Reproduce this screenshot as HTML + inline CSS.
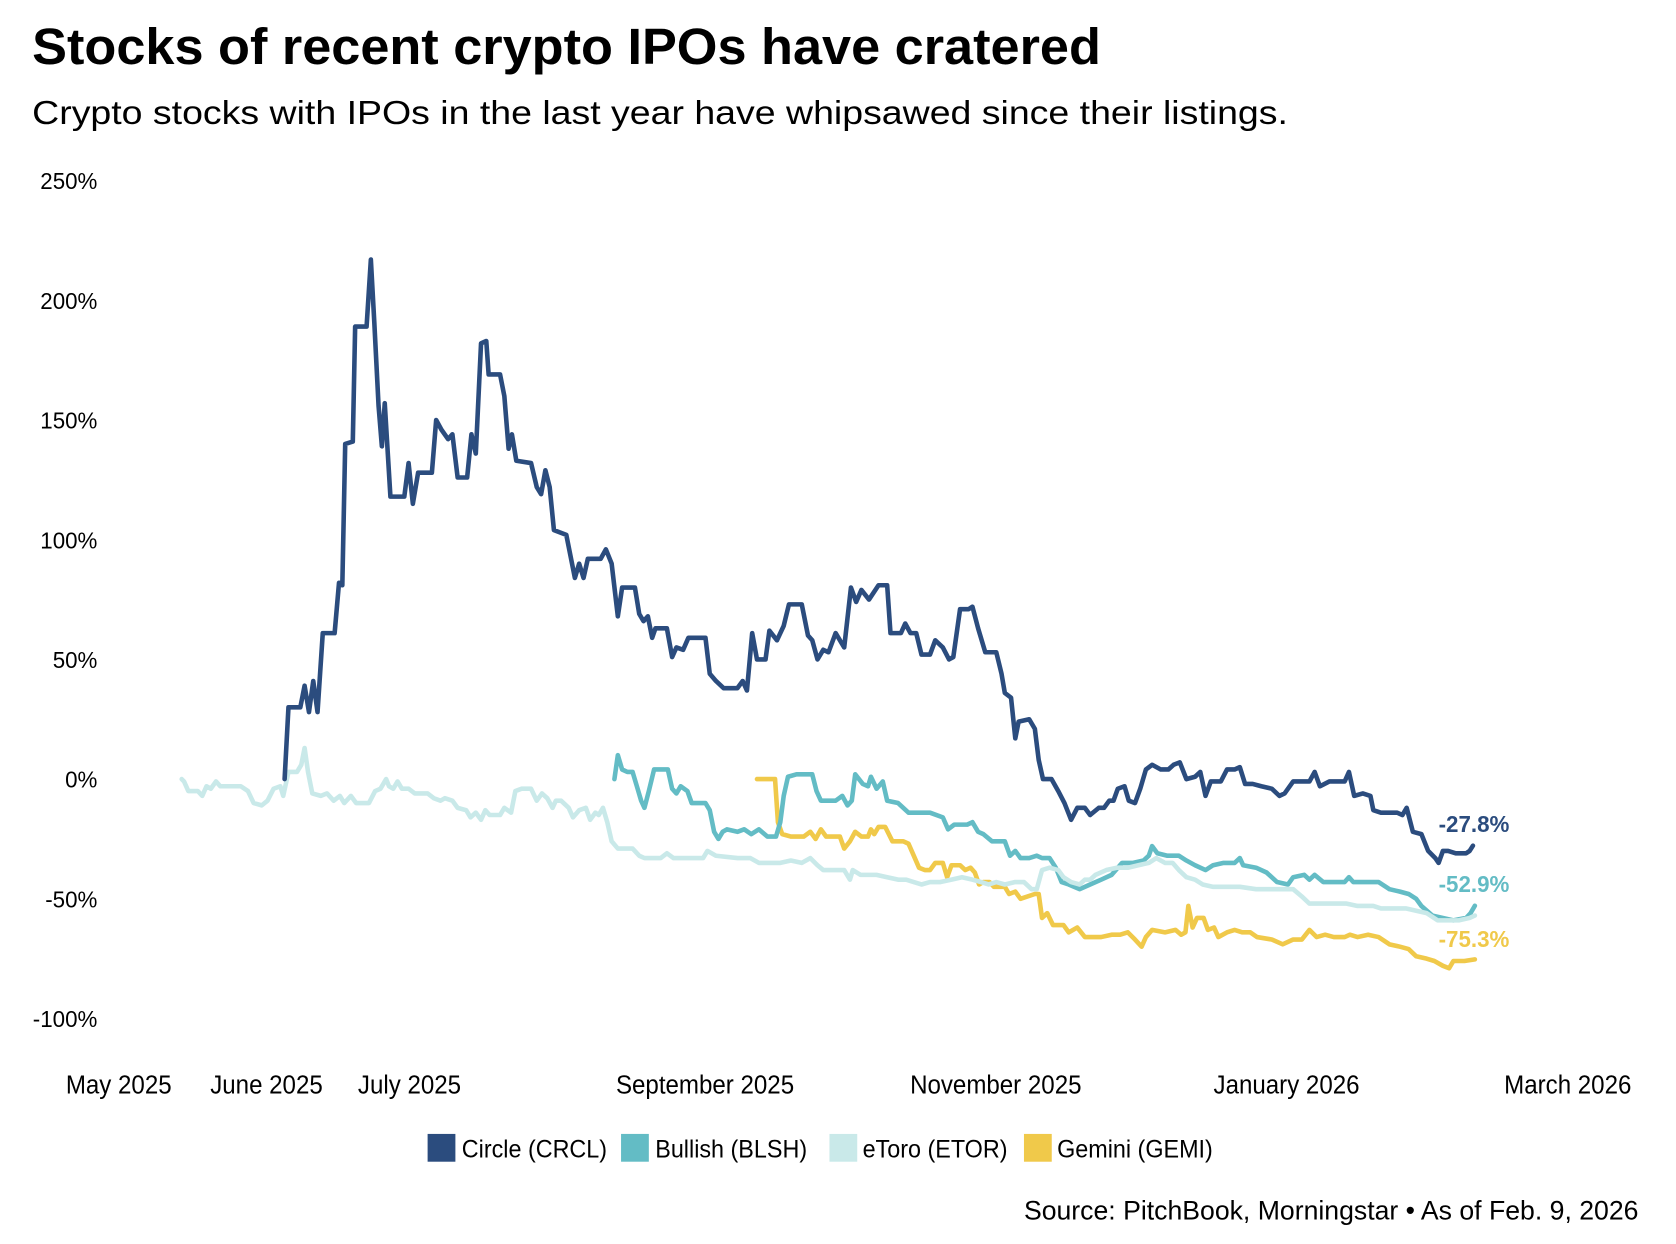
<!DOCTYPE html>
<html><head><meta charset="utf-8"><style>
html,body{margin:0;padding:0;background:#fff;}
svg{display:block;}
text{font-family:"Liberation Sans Narrow","Liberation Sans",sans-serif;fill:#000;}
</style></head><body>
<svg id="chart" width="1676" height="1244" viewBox="0 0 1568 1164" xmlns="http://www.w3.org/2000/svg">
<text x="30" y="60" font-size="48" font-weight="bold" textLength="1000" lengthAdjust="spacingAndGlyphs">Stocks of recent crypto IPOs have cratered</text>
<text x="30" y="116" font-size="31" textLength="1175" lengthAdjust="spacingAndGlyphs">Crypto stocks with IPOs in the last year have whipsawed since their listings.</text>
<g id="yaxis"></g>
<g id="xaxis"></g>
<g id="series"></g>
<g id="labels"></g>
<g>
 <g><rect x="400" y="1061" width="26" height="26" fill="#2b4c7e"/><text class="cond" x="432" y="1083" font-size="23">Circle (CRCL)</text></g>
 <g><rect x="581" y="1061" width="26" height="26" fill="#63bcc5"/><text class="cond" x="613" y="1083" font-size="23">Bullish (BLSH)</text></g>
 <g><rect x="776" y="1061" width="26" height="26" fill="#c9e9e9"/><text class="cond" x="807" y="1083" font-size="23">eToro (ETOR)</text></g>
 <g><rect x="958" y="1061" width="26" height="26" fill="#f0c94a"/><text class="cond" x="989" y="1083" font-size="23">Gemini (GEMI)</text></g>
</g>
<text x="1533" y="1141" font-size="25" text-anchor="end" textLength="575" lengthAdjust="spacingAndGlyphs">Source: PitchBook, Morningstar • As of Feb. 9, 2026</text>
</svg>
<script>
// days since 2025-05-01
const yTicks = [250,200,150,100,50,0,-50,-100];
const xTickLabels = ["May 2025","June 2025","July 2025","September 2025","November 2025","January 2026","March 2026"];
const xTickDays = [0,31,61,123,184,245,304];

const circleDays = [34.8,35.6,38.1,39,39.9,40.8,41.7,42.8,45.3,46.2,46.9,47.5,49.1,49.6,52,52.9,53.6,54.5,55.2,55.8,57,59.9,60.8,61.7,62.8,65.7,66.6,67.7,69.1,70,71.1,73.1,74,74.9,76,77.1,77.6,80,80.9,81.8,82.5,83.4,86.5,87.7,88.6,89.5,90.4,91.3,93.9,94.8,95.7,96.6,97.5,98.4,101.1,102.2,103.4,104.7,105.6,108.3,109.2,110.1,111,111.9,112.6,115,116.1,117,118.4,119.5,123.1,124,125.3,126.9,129.8,130.9,131.8,132.9,133.9,135.7,136.5,138.1,139.5,140.6,143.3,144.6,145.5,146.6,147.8,148.9,150.4,152.2,153.6,154.7,155.8,157.4,159.4,161.2,161.9,164.1,165,166.1,167.3,168.4,170.2,171.3,172.9,174.2,175.1,176.5,178.3,179.1,180.3,181.8,184.1,185.2,185.9,187.2,188.1,188.8,191,192.2,193,193.9,195.7,197.1,198.4,199.8,201.1,202.7,203.8,205.6,206.7,207.8,208.7,209.6,211,211.9,213.2,214.3,215.5,216.8,218.6,220.2,221.3,222.6,224,225.8,226.9,228,229.1,231.2,232.5,234.1,235.2,236.3,237.9,239.7,241.9,243.5,244.6,246.4,249.8,250.9,252,254,257.2,258.1,259.2,261,262.6,263.2,264.8,268.2,269.3,270.2,271.5,273.3,274.7,276.2,276.9,277.8,278.9,280.5,282.7,283.4,284.1];
const circleValues = [0,30,30,39,28,41,28,61,61,82,81,140,141,189,189,217,191,156,139,157,118,118,132,115,128,128,150,146,142,144,126,126,144,136,182,183,169,169,160,138,144,133,132,122,119,129,122,104,102,93,84,90,84,92,92,96,90,68,80,80,69,66,68,59,63,63,51,55,54,59,59,44,41,38,38,41,37,61,50,50,62,58,64,73,73,60,58,50,54,53,61,55,80,74,79,75,81,81,61,61,65,61,61,52,52,58,55,50,51,71,71,72,63,53,53,44,36,34,17,24,25,21,8,0,0,-5,-10,-17,-12,-12,-15,-12,-12,-9,-9,-4,-3,-9,-10,-4,4,6,4,4,6,7,0,1,3,-7,-1,-1,4,4,5,-2,-2,-3,-4,-7,-6,-1,-1,3,-3,-1,-1,3,-7,-6,-7,-13,-14,-14,-15,-12,-22,-23,-30,-33,-35,-30,-30,-31,-31,-30,-27.8];

const etoroDays = [13.2,13.7,14.6,16.6,17.5,18.4,19.3,20.4,21.3,22.6,25.6,27.1,28.3,30,31.2,32.5,33.9,34.5,35.6,37.4,38.3,39,39.7,40.6,42.4,43.7,45.1,46.4,47.3,48.7,49.8,52.5,53.8,54.9,56.1,56.7,57.6,58.5,59.4,60.8,62.1,64.8,66.1,67.5,68.4,70,71.1,72.9,73.8,74.9,76,76.9,77.8,80,80.9,82.3,83.2,84.5,86.5,87.7,88.8,89.9,91,91.7,92.8,94.4,95.3,96.6,98,98.9,100,100.7,101.6,102.5,103.4,104.7,107.8,109.2,110.3,113.7,115,116.4,122.6,123.5,125.3,129.8,132.5,134.3,138.8,141,143.3,145.1,146.6,147.8,152.2,153.4,154,155.6,159,161.2,163.5,165.2,166.8,168.4,170.2,172.4,174.7,176.9,179.1,180.9,182.5,184.1,185.9,188.1,189.9,191.5,192.6,193.7,195.3,197.1,198.2,199.8,201.6,202.7,203.8,204.9,207.2,209.4,211.7,213.9,216.1,217.7,219.5,221.1,222.4,224,225.8,227.4,229.6,231.8,235.2,238.6,241.9,244.2,246.4,248.2,249.8,253.1,257.6,259.9,263.2,264.8,267.7,270,272.2,274.4,276.7,278.9,281.1,283.4,284.5];
const etoroValues = [0,-1,-5,-5,-7,-3,-4,-1,-3,-3,-3,-5,-10,-11,-9,-4,-3,-7,3,3,6,13,3,-6,-7,-6,-9,-7,-10,-7,-10,-10,-5,-4,0,-3,-4,-1,-4,-4,-6,-6,-8,-9,-8,-9,-12,-13,-16,-14,-17,-13,-15,-15,-12,-14,-5,-4,-4,-9,-6,-8,-12,-9,-9,-12,-16,-13,-12,-17,-14,-15,-12,-18,-26,-29,-29,-32,-33,-33,-31,-33,-33,-30,-32,-33,-33,-35,-35,-34,-35,-33,-36,-38,-38,-42,-38,-40,-40,-41,-42,-42,-43,-44,-43,-43,-42,-41,-42,-43,-44,-43,-44,-43,-43,-46,-46,-38,-37,-38,-41,-43,-44,-42,-42,-40,-38,-37,-37,-36,-35,-33,-35,-35,-38,-41,-42,-44,-45,-45,-45,-46,-46,-46,-46,-49,-52,-52,-52,-53,-53,-54,-54,-54,-55,-56,-59,-59,-59,-58,-57];

const bullishDays = [104,104.7,105.6,106.7,107.8,108.7,109.6,110.3,111.2,112.3,115.2,116.1,117,117.9,119.3,120.2,123.1,124,124.9,125.8,126.7,127.6,129.8,131.2,132.7,134.3,136.1,137.9,138.8,139.5,140.4,142.2,145.5,146.4,147.3,150.4,151.8,152.9,153.8,154.5,156.1,157.2,157.8,159,160.3,161.2,163.5,165.7,170.2,172.9,174,175.3,178,179.1,180.3,181.4,183.2,185.9,187,188.1,189.2,191,192.6,193.7,195.3,196.6,197.8,199.3,201.6,203.8,206.1,208.3,210.5,212.8,215,216.1,216.8,217.9,220,222.4,224,225.8,228,229.6,231.8,234.1,235.2,235.9,238.6,240.8,243,245.3,246.4,248.7,249.8,250.9,252.7,255.4,257.2,258.1,259,261,264.3,266.6,268.8,270.6,272.2,273.3,275.6,280,282.7,283.6,284.5];
const bullishValues = [0,10,4,3,3,-3,-9,-12,-5,4,4,-4,-6,-3,-5,-10,-10,-13,-22,-25,-22,-21,-22,-21,-23,-21,-24,-24,-18,-7,1,2,2,-5,-9,-9,-7,-11,-9,2,-2,-3,1,-4,-1,-9,-10,-14,-14,-16,-21,-19,-19,-18,-22,-23,-26,-26,-32,-30,-33,-33,-32,-33,-33,-37,-43,-44,-46,-44,-42,-40,-35,-35,-34,-32,-28,-31,-32,-32,-34,-36,-38,-36,-35,-35,-33,-36,-37,-39,-43,-44,-41,-40,-42,-40,-43,-43,-43,-41,-43,-43,-43,-46,-47,-48,-50,-53,-57,-59,-58,-56,-52.9];

const geminiDays = [133.9,136.1,137.7,138.3,139.2,141,143.7,145.1,146.2,147.3,148.4,150,151.3,152.2,153.4,154.5,155.8,157.2,157.8,158.5,159.4,160.8,162.3,164.6,165.7,166.8,167.9,169.1,170.2,171.3,172.9,173.8,174.7,176.5,177.6,178.7,179.6,180.5,181.4,182.7,183.6,185.9,186.8,188.1,189.2,192.2,193,193.7,194.8,196,198.2,199.3,201.1,202.7,206.1,208.3,210.1,211.7,213.2,214.6,215.5,216.8,219.5,221.7,222.9,223.8,224.4,225.3,226.2,227.6,228.5,229.8,230.7,232.5,234.1,235.7,237.4,238.8,241.9,244.2,246.4,248.2,249.8,251.3,253.1,254.9,257.2,258.3,259.9,262.1,264.3,266.6,268.8,270.6,272.2,274.4,276,277.8,279.1,280,282.3,284.5];
const geminiValues = [0,0,0,-18,-23,-24,-24,-22,-25,-21,-24,-24,-24,-29,-26,-22,-24,-24,-21,-23,-20,-20,-26,-26,-27,-32,-37,-38,-38,-35,-35,-41,-36,-36,-38,-37,-39,-44,-43,-43,-45,-45,-48,-47,-50,-48,-48,-58,-56,-61,-61,-64,-62,-66,-66,-65,-65,-64,-67,-70,-66,-63,-64,-63,-65,-64,-53,-62,-58,-58,-63,-62,-66,-64,-63,-64,-64,-66,-67,-69,-67,-67,-63,-66,-65,-66,-66,-65,-66,-65,-66,-69,-70,-71,-74,-75,-76,-78,-79,-76,-76,-75.3];

const endLabels = ["-27.8%","-52.9%","-75.3%"];
const endLabelValues = [-18.5,-43.5,-66.5];

const NS = "http://www.w3.org/2000/svg";
function xs(d){ return 111 + d*4.46; }
function ys(v){ return 729 - v*2.24; }
function condense(el, f){
  const w = el.getComputedTextLength();
  if (w > 0) { el.setAttribute('textLength', (w*f).toFixed(1)); el.setAttribute('lengthAdjust','spacingAndGlyphs'); }
}

const yg = document.getElementById('yaxis');
yTicks.forEach(t=>{
  const el = document.createElementNS(NS,'text');
  
  
  el.setAttribute('x', 91); el.setAttribute('y', ys(t)+8);
  el.setAttribute('text-anchor','end'); el.setAttribute('font-size','22');
  el.textContent = t + '%';
  yg.appendChild(el);
  condense(el, 0.95);
});
const xg = document.getElementById('xaxis');
xTickLabels.forEach((l,i)=>{
  const el = document.createElementNS(NS,'text');
  
  
  el.setAttribute('x', xs(xTickDays[i])); el.setAttribute('y', 1023);
  el.setAttribute('text-anchor','middle'); el.setAttribute('font-size','24');
  el.textContent = l;
  xg.appendChild(el);
  condense(el, 0.94);
});

const sg = document.getElementById('series');
function drawLine(days, vals, color, name){
  let d = '';
  days.forEach((dd,i)=>{ d += (i?'L':'M') + xs(dd).toFixed(1) + ',' + ys(vals[i]).toFixed(1); });
  const p = document.createElementNS(NS,'path');
  
  
  p.setAttribute('d', d); p.setAttribute('fill','none');
  p.setAttribute('stroke', color); p.setAttribute('stroke-width','4.3');
  p.setAttribute('stroke-linejoin','round'); p.setAttribute('stroke-linecap','round');
  sg.appendChild(p);
}
drawLine(geminiDays, geminiValues, '#f0c94a', 'gemini-line');
drawLine(bullishDays, bullishValues, '#63bcc5', 'bullish-line');
drawLine(etoroDays, etoroValues, '#c9e9e9', 'etoro-line');
drawLine(circleDays, circleValues, '#2b4c7e', 'circle-line');

const lg = document.getElementById('labels');
const labelColors = ['#2b4c7e','#63bcc5','#f0c94a'];
endLabels.forEach((l,i)=>{
  const el = document.createElementNS(NS,'text');
  
  
  el.setAttribute('x', 1346); el.setAttribute('y', ys(endLabelValues[i])+8);
  el.setAttribute('font-size','22'); el.setAttribute('font-weight','bold');
  el.setAttribute('fill', labelColors[i]); el.style.fill = labelColors[i];
  el.textContent = l;
  lg.appendChild(el);
  condense(el, 0.95);
});
document.querySelectorAll('text.cond').forEach(el=>condense(el, 0.95));
</script>
</body></html>
